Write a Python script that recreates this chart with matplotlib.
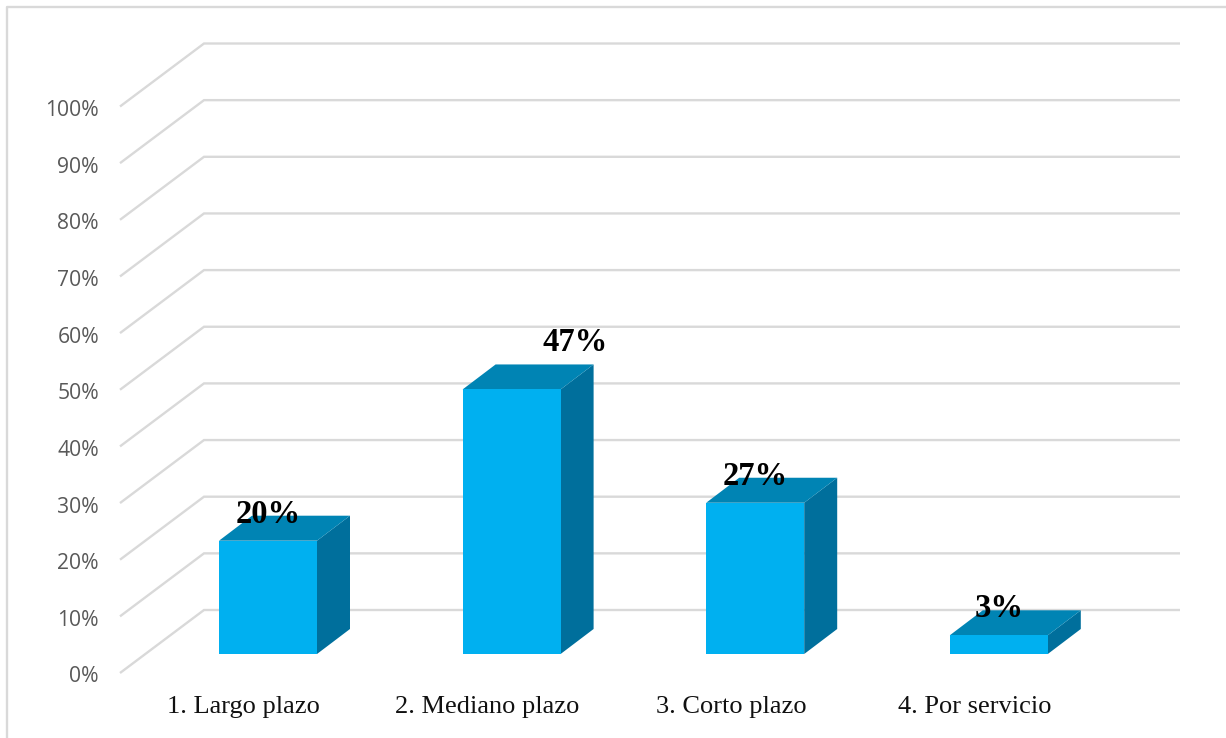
"""3D style bar chart, plazo"""

import matplotlib
matplotlib.use('Agg')
import matplotlib.pyplot as plt
from matplotlib.patches import Polygon, Rectangle

categories = ['1. Largo plazo', '2. Mediano plazo', '3. Corto plazo', '4. Por servicio']
values = [20, 46.7, 26.7, 3.3]
valueLabels = ['20%', '47%', '27%', '3%']
gridTicks = [0, 10, 20, 30, 40, 50, 60, 70, 80, 90, 100]

W, H = 1226, 738
# pixel layout of the fake 3d box
x0px, xStep = 268, 243.6
y0px, yStep = 654, 5.665

fig = plt.figure(figsize=(W/100, H/100), dpi=100)
ax = fig.add_axes([0, 0, 1, 1])
ax.set_xlim(-x0px/xStep, (W-x0px)/xStep)
ax.set_ylim((y0px-H)/yStep, y0px/yStep)
ax.axis('off')

# depth of bars, in data units
dx = 33/xStep
dy = 25/yStep
halfW = 49/xStep

# wall
wallLeft = (120-x0px)/xStep
wallBack = (204-x0px)/xStep
wallRight = (1180-x0px)/xStep
floorFront = (y0px-673)/yStep
floorBack = (y0px-610)/yStep

# the 47% label sits off to the right and above its bar
labelDx = [0, 0.26, 0, 0]
labelDy = [0, 3.6, 0, 0]

gridColor = '#d9d9d9'
for t in gridTicks:
    ax.plot([wallLeft, wallBack, wallRight], [t+floorFront, t+floorBack, t+floorBack],
            color=gridColor, lw=1.7, solid_joinstyle='miter', solid_capstyle='butt', zorder=1)
    ax.text((99-x0px)/xStep, t+floorFront-0.7, str(t)+'%', ha='right', va='center',
            family='Open Sans', fontsize=15.2, color='#595959')

frontC = '#00b0f0'
topC = '#0084b4'
sideC = '#006f9c'
for i, v in enumerate(values):
    l, r = i-halfW, i+halfW
    ax.add_patch(Polygon([(r, 0), (r+dx, dy), (r+dx, v+dy), (r, v)], fc=sideC, ec='none', zorder=2))
    ax.add_patch(Polygon([(l, v), (r, v), (r+dx, v+dy), (l+dx, v+dy)], fc=topC, ec='none', zorder=2))
    ax.add_patch(Rectangle((l, 0), 2*halfW, v, fc=frontC, ec='none', zorder=3))
    ax.text(i+labelDx[i], v+dy+0.3+labelDy[i], valueLabels[i], ha='center', va='center',
            family='Liberation Serif', fontweight='bold', fontsize=23.5, color='black', zorder=4)
    ax.text(i-0.1, (y0px-707)/yStep, categories[i], ha='center', va='center',
            family='Liberation Serif', fontsize=19, color='#111111', zorder=4)

# chart frame
ax.plot([7/xStep-x0px/xStep, 7/xStep-x0px/xStep, (1226-x0px)/xStep],
        [(y0px-738)/yStep, (y0px-7)/yStep, (y0px-7)/yStep], color=gridColor, lw=1.7, zorder=1)

fig.savefig('out.png', dpi=100)
